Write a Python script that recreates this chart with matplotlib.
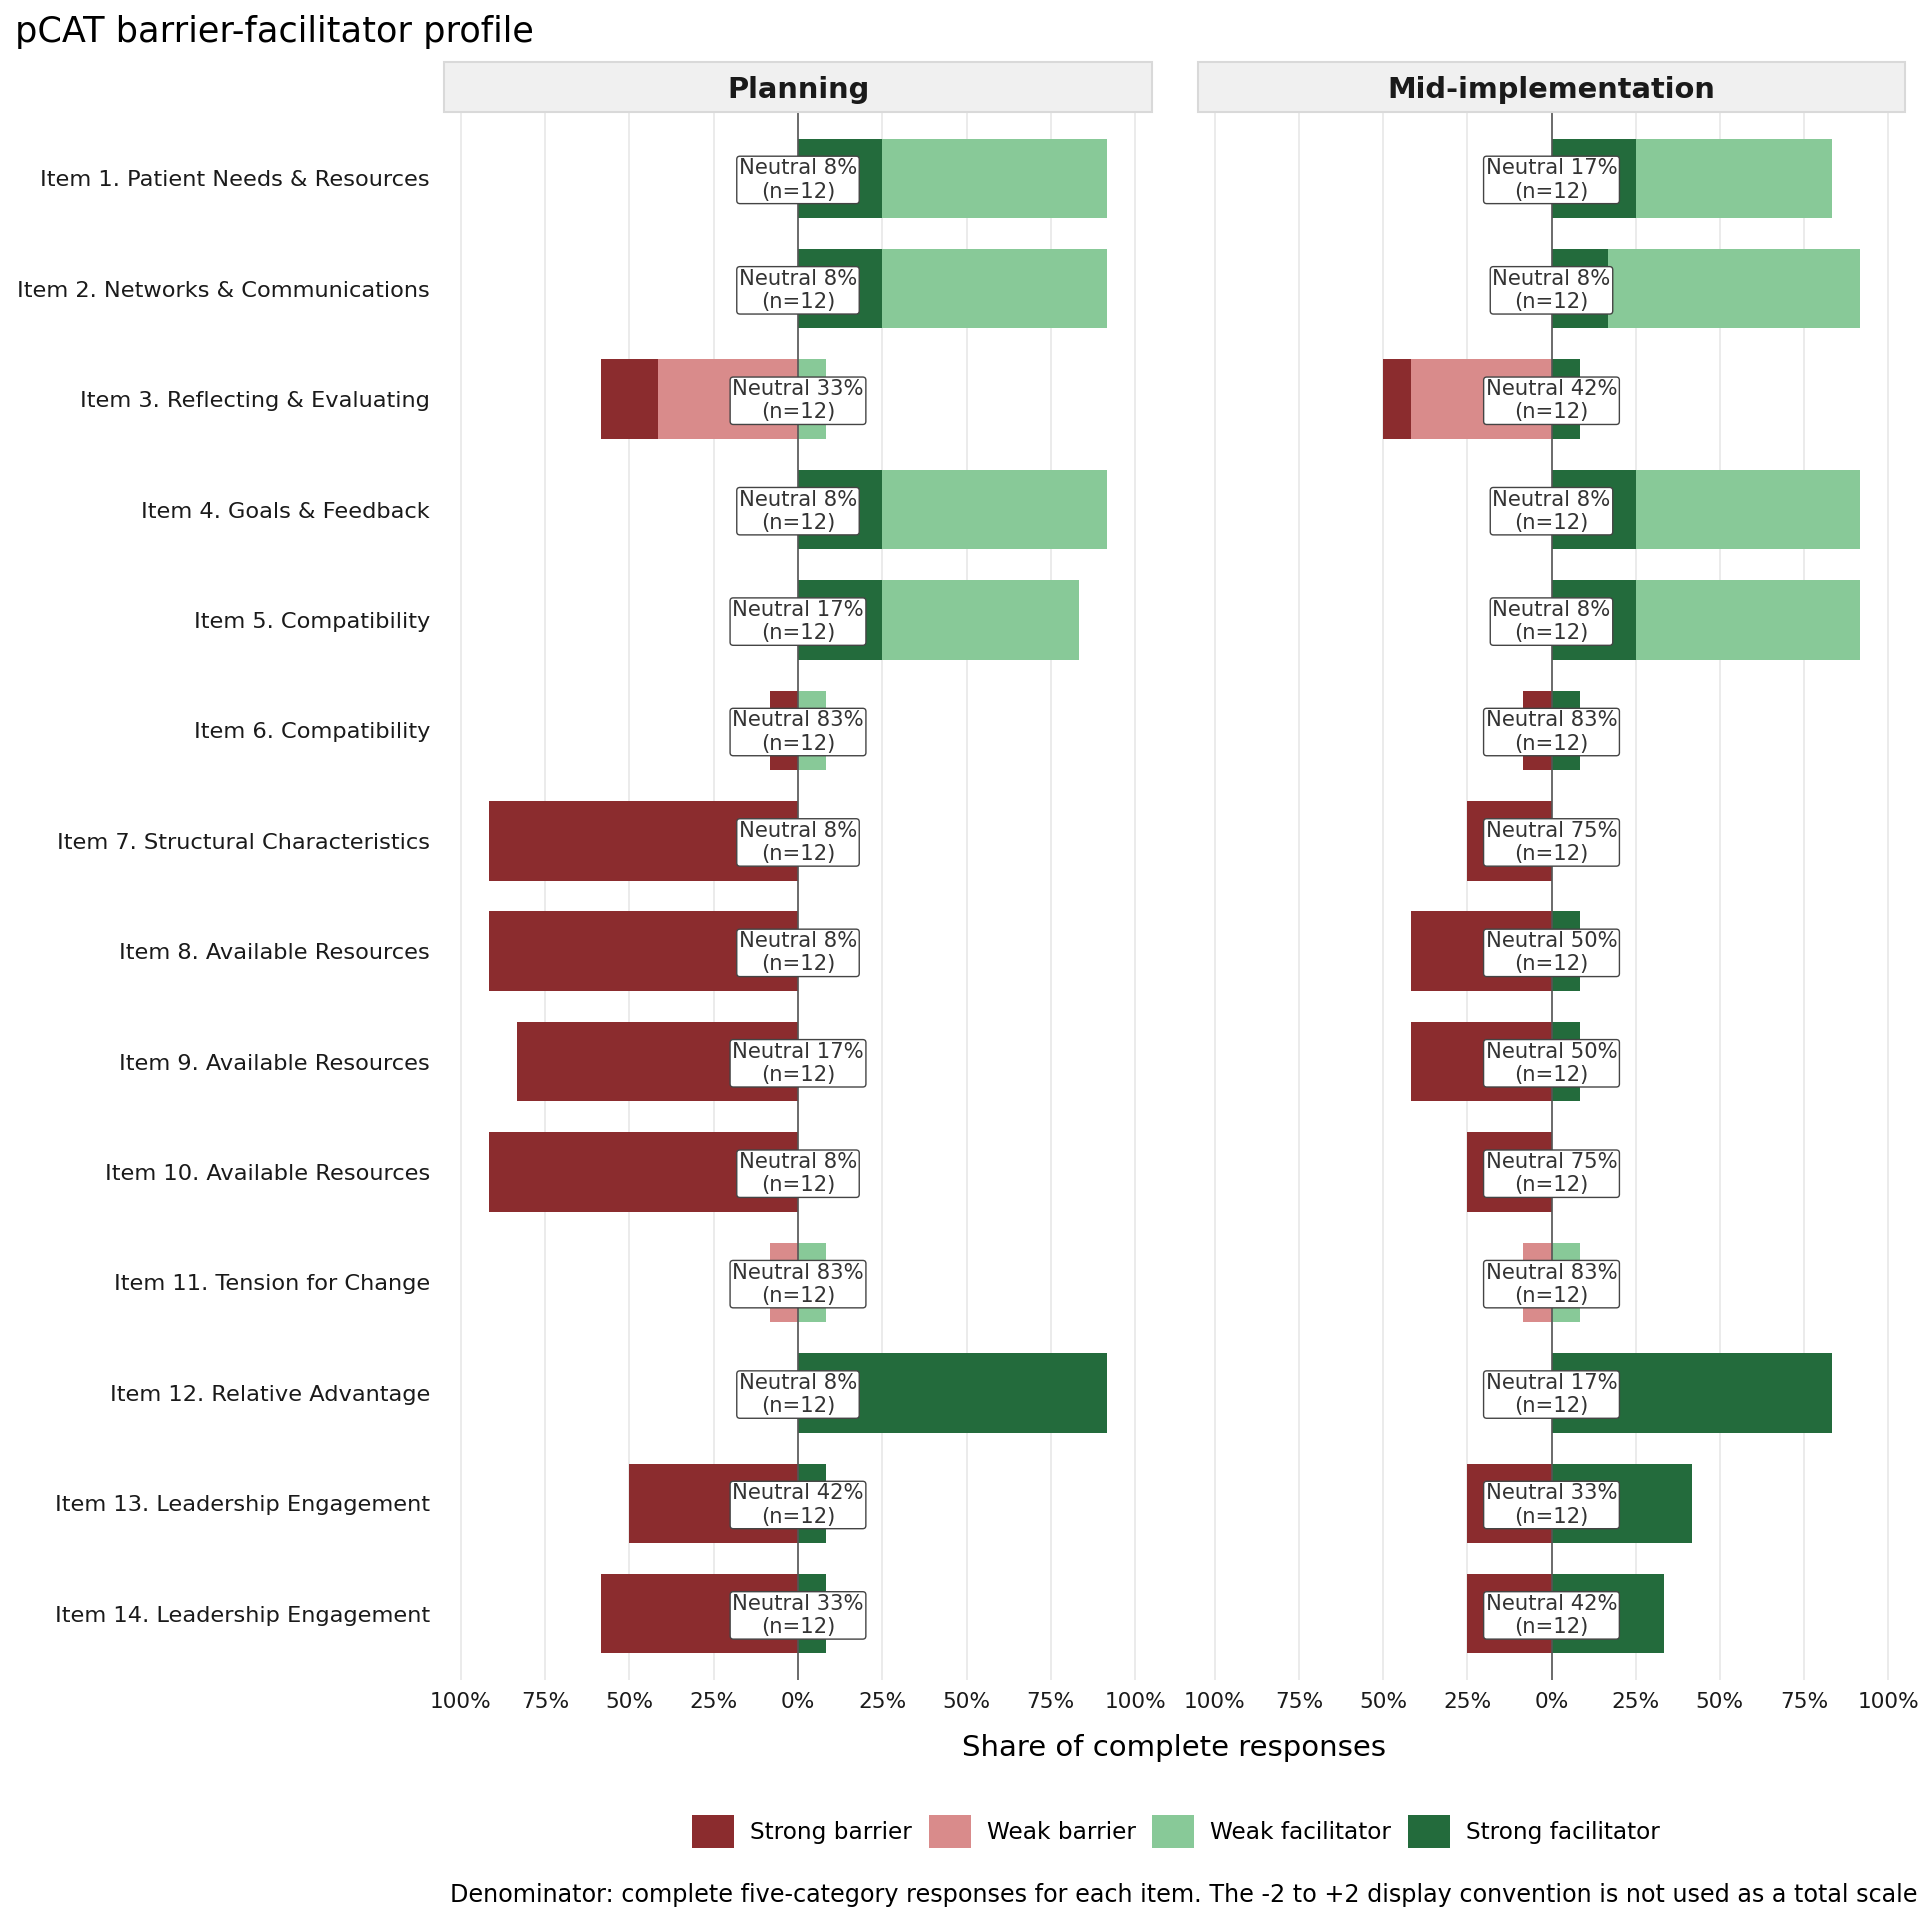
import matplotlib
matplotlib.use("Agg")
import matplotlib.pyplot as plt
from matplotlib.patches import Patch, Rectangle
import numpy as np

# Items (top to bottom)
items = [
    "Item 1. Patient Needs & Resources",
    "Item 2. Networks & Communications",
    "Item 3. Reflecting & Evaluating",
    "Item 4. Goals & Feedback",
    "Item 5. Compatibility",
    "Item 6. Compatibility",
    "Item 7. Structural Characteristics",
    "Item 8. Available Resources",
    "Item 9. Available Resources",
    "Item 10. Available Resources",
    "Item 11. Tension for Change",
    "Item 12. Relative Advantage",
    "Item 13. Leadership Engagement",
    "Item 14. Leadership Engagement",
]
phases = ["Planning", "Mid-implementation"]
n_resp = 12

# response counts per item (out of n_resp)
plan_strong_barrier = [0, 0, 2, 0, 0, 1, 11, 11, 10, 11, 0, 0, 6, 7]
plan_weak_barrier = [0, 0, 5, 0, 0, 0, 0, 0, 0, 0, 1, 0, 0, 0]
plan_neutral = [1, 1, 4, 1, 2, 10, 1, 1, 2, 1, 10, 1, 5, 4]
plan_weak_facil = [8, 8, 1, 8, 7, 1, 0, 0, 0, 0, 1, 0, 0, 0]
plan_strong_facil = [3, 3, 0, 3, 3, 0, 0, 0, 0, 0, 0, 11, 1, 1]

mid_strong_barrier = [0, 0, 1, 0, 0, 1, 3, 5, 5, 3, 0, 0, 3, 3]
mid_weak_barrier = [0, 0, 5, 0, 0, 0, 0, 0, 0, 0, 1, 0, 0, 0]
mid_neutral = [2, 1, 5, 1, 1, 10, 9, 6, 6, 9, 10, 2, 4, 5]
mid_weak_facil = [7, 9, 0, 8, 8, 0, 0, 0, 0, 0, 1, 0, 0, 0]
mid_strong_facil = [3, 2, 1, 3, 3, 1, 0, 1, 1, 0, 0, 10, 5, 4]

categories = ["Strong barrier", "Weak barrier", "Weak facilitator", "Strong facilitator"]
colors = {"Strong barrier": "#8B2C2E", "Weak barrier": "#D98B8B",
          "Weak facilitator": "#88C998", "Strong facilitator": "#236B3C"}

xticks = [-1, -0.75, -0.5, -0.25, 0, 0.25, 0.5, 0.75, 1]
xticklabels = ["100%", "75%", "50%", "25%", "0%", "25%", "50%", "75%", "100%"]

W, H = 1920, 1920
fig = plt.figure(figsize=(19.2, 19.2), dpi=100)

panel_top, panel_bot = 112, 1680
ax1 = fig.add_axes([444 / W, 1 - panel_bot / H, 708 / W, (panel_bot - panel_top) / H])
ax2 = fig.add_axes([1198 / W, 1 - panel_bot / H, 707 / W, (panel_bot - panel_top) / H])

data = {
    "Planning": (plan_strong_barrier, plan_weak_barrier, plan_neutral, plan_weak_facil, plan_strong_facil),
    "Mid-implementation": (mid_strong_barrier, mid_weak_barrier, mid_neutral, mid_weak_facil, mid_strong_facil),
}

ypos = np.arange(len(items))
bar_h = 0.72

for ax, phase in zip([ax1, ax2], phases):
    sb, wb, neu, wf, sf = [np.array(v) / n_resp for v in data[phase]]
    ax.barh(ypos, -wb, height=bar_h, color=colors["Weak barrier"], zorder=2)
    ax.barh(ypos, -sb, left=-wb, height=bar_h, color=colors["Strong barrier"], zorder=2)
    ax.barh(ypos, sf, height=bar_h, color=colors["Strong facilitator"], zorder=2)
    ax.barh(ypos, wf, left=sf, height=bar_h, color=colors["Weak facilitator"], zorder=2)
    ax.axvline(0, color="#555555", lw=1.2, zorder=3)

    for y, nv in zip(ypos, data[phase][2]):
        ax.text(0, y + 0.015, f"Neutral {round(100 * nv / n_resp)}%\n(n={n_resp})",
                ha="center", va="center", fontsize=15.2, color="#333333",
                linespacing=1.2, zorder=5,
                bbox=dict(boxstyle="round,pad=0.1,rounding_size=0.15",
                          fc="white", ec="#444444", lw=1.0))

    ax.set_xlim(-1.05, 1.05)
    ax.set_ylim(len(items) - 0.4, -0.6)
    ax.set_xticks(xticks)
    ax.set_xticklabels(xticklabels, fontsize=15.6, color="#1A1A1A")
    ax.grid(axis="x", color="#EBEBEB", lw=1.4, zorder=0)
    ax.set_axisbelow(True)
    ax.tick_params(length=0, pad=9)
    for s in ax.spines.values():
        s.set_visible(False)

    # facet strip
    pos = ax.get_position()
    fig.patches.append(Rectangle((pos.x0, 1 - panel_top / H), pos.width, 50 / H,
                                 transform=fig.transFigure, fc="#F0F0F0",
                                 ec="#D9D9D9", lw=1.5))
    fig.text(pos.x0 + pos.width / 2, 1 - 89.5 / H, phase, ha="center", va="center",
             fontsize=20.8, fontweight="bold", color="#1A1A1A")

ax1.set_yticks(ypos)
ax1.set_yticklabels(items, fontsize=16.2, color="#1A1A1A")
ax1.tick_params(axis="y", pad=10)
ax2.set_yticks(ypos)
ax2.set_yticklabels([])

fig.text(15 / W, 1 - 42 / H, "pCAT barrier-facilitator profile", ha="left",
         va="baseline", fontsize=25.3)
fig.text(1174.5 / W, 1 - 1748.5 / H, "Share of complete responses", ha="center",
         va="center", fontsize=21)

handles = [Patch(facecolor=colors[c], edgecolor="none") for c in categories]
fig.legend(handles, categories, loc="center", bbox_to_anchor=(1176 / W, 1 - 1831.5 / H),
           ncol=4, frameon=False, fontsize=16.7, handlelength=1.81, handleheight=1.81,
           handletextpad=0.69, columnspacing=0.73)

fig.text(1918 / W, 1 - 1895 / H,
         "Denominator: complete five-category responses for each item. "
         "The -2 to +2 display convention is not used as a total scale",
         ha="right", va="center", fontsize=17.2)

fig.savefig("out.png", dpi=100)
